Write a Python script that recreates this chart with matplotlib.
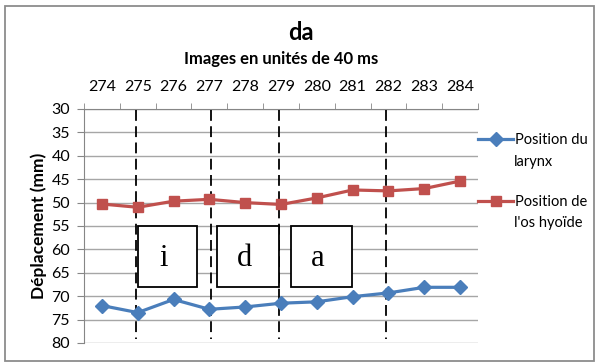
import matplotlib

matplotlib.use("Agg")

import matplotlib.pyplot as plt
from matplotlib.patches import Rectangle

FRAMES = [274, 275, 276, 277, 278, 279, 280, 281, 282, 283, 284]
LARYNX_MM = [72.0, 73.5, 70.7, 72.8, 72.3, 71.5, 71.2, 70.1, 69.3, 68.1, 68.1]
HYOID_MM = [50.3, 51.0, 49.7, 49.3, 50.0, 50.4, 49.0, 47.3, 47.5, 47.0, 45.4]

LARYNX_LABEL = ("Position du", "larynx")
HYOID_LABEL = ("Position de", "l'os hyoïde")

# segment boundaries (frame index) and the phoneme boxes between them
BOUNDARIES = [274.94, 277.04, 278.94, 281.94]
PHONEMES = ["i", "d", "a"]
PHONEME_SPANS = [(275.0, 276.65), (277.22, 278.94), (279.27, 280.99)]
PHONEME_Y = (55.0, 68.1)

BLUE = "#4A7EBB"
RED = "#C0504D"
GRID = "#A6A6A6"

plt.rcParams["font.family"] = ["Lato", "DejaVu Sans"]

fig = plt.figure(figsize=(5.95, 3.62), dpi=100)
W, H = 595, 362
ax = fig.add_axes([84 / W, 1 - 343 / H, (478 - 84) / W, (343 - 109) / H])

ax.plot(FRAMES, LARYNX_MM, color=BLUE, lw=2.3, marker="D", ms=7.5,
        label=LARYNX_LABEL[0], zorder=5, solid_joinstyle="round")
ax.plot(FRAMES, HYOID_MM, color=RED, lw=2.3, marker="s", ms=7,
        label=HYOID_LABEL[0], zorder=5, solid_joinstyle="round")

ax.vlines(BOUNDARIES, 30.3, 79.2, colors="black", linestyles=(0, (6, 3)),
          lw=1.3, zorder=3)

for (x0, x1), ph in zip(PHONEME_SPANS, PHONEMES):
    ax.add_patch(Rectangle((x0, PHONEME_Y[0]), x1 - x0, PHONEME_Y[1] - PHONEME_Y[0],
                           facecolor="white", edgecolor="black", lw=1.3, zorder=4))
    ax.text((x0 + x1) / 2 - 0.1, (PHONEME_Y[0] + PHONEME_Y[1]) / 2 + 0.3, ph,
            family="Liberation Serif", fontsize=22, ha="center", va="center", zorder=6)

ax.set_xlim(273.5, 284.5)
ax.set_ylim(80, 30)
ax.set_yticks(range(30, 81, 5))
ax.set_xticks(FRAMES)
ax.set_xticks([f + 0.5 for f in [273] + FRAMES], minor=True)
ax.xaxis.tick_top()
ax.tick_params(axis="x", which="major", length=0, pad=11, labelsize=11.5)
ax.tick_params(axis="x", which="minor", length=4, color="#868686", direction="out")
ax.tick_params(axis="y", length=5, color="#868686", pad=5, labelsize=11.5)
ax.grid(axis="y", color=GRID, lw=1)
for side in ["right", "bottom"]:
    ax.spines[side].set_visible(False)
for side in ["left", "top"]:
    ax.spines[side].set_color("#868686")
ax.set_axisbelow(True)

ax.set_ylabel("Déplacement (mm)", fontsize=12.5, fontweight="bold", labelpad=3)

fig.text(301 / W, 1 - 32 / H, "da", fontsize=17, fontweight="bold",
         ha="center", va="center")
fig.text(281 / W, 1 - 59 / H, "Images en unités de 40 ms", fontsize=12,
         fontweight="bold", ha="center", va="center")

ax.legend(loc="upper left", bbox_to_anchor=(478 / W, 1 - 133 / H),
          bbox_transform=fig.transFigure, frameon=False, fontsize=10.5,
          handlelength=2.4, handletextpad=0.15, labelspacing=3.3,
          borderaxespad=0, borderpad=0)
# second line of each legend label, under the first one
for y_px, second in zip([162, 223], [LARYNX_LABEL[1], HYOID_LABEL[1]]):
    fig.text(514 / W, 1 - y_px / H, second, fontsize=10.5, ha="left", va="center")

fig.add_artist(Rectangle((5 / W, 1 / H), 589 / W, 355 / H, transform=fig.transFigure,
                         fill=False, edgecolor="#8C8C8C", lw=1.3))

fig.savefig("out.png", dpi=100)
